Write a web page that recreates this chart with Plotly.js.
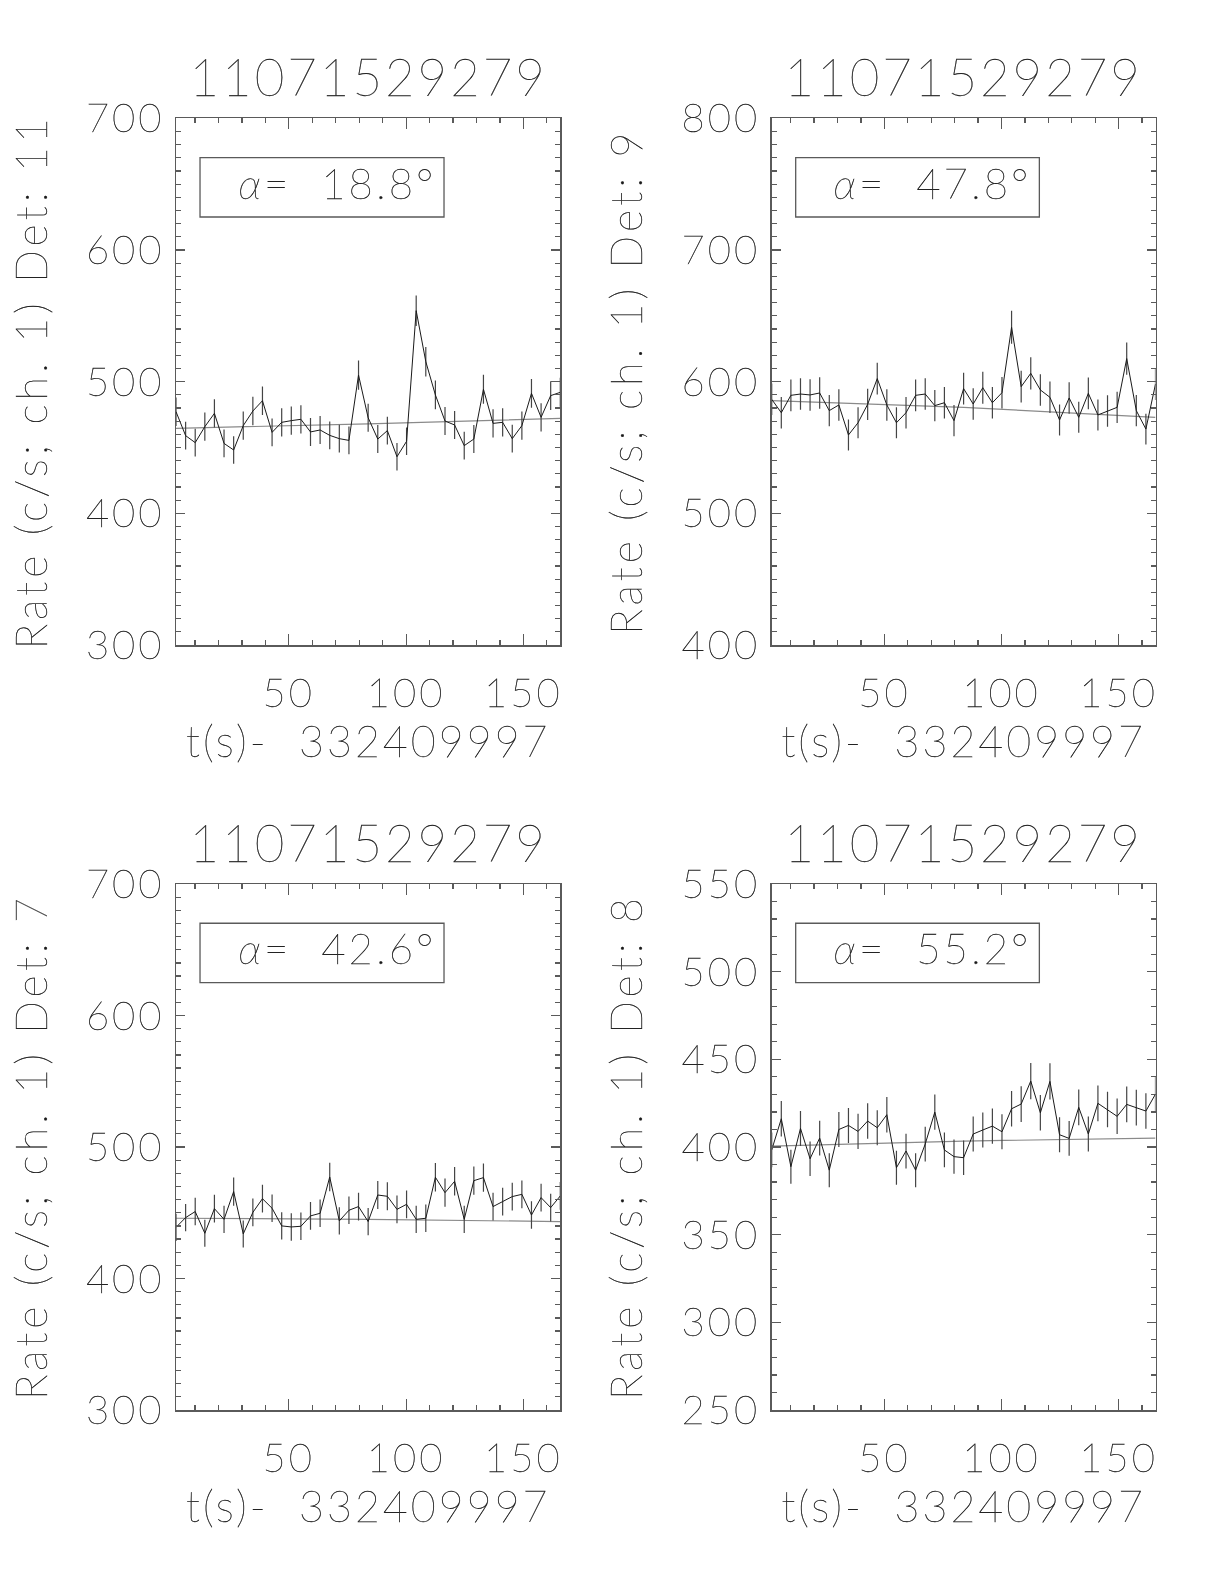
<!DOCTYPE html>
<html>
<head>
<meta charset="utf-8">
<script src="https://cdn.plot.ly/plotly-3.0.1.min.js"></script>
<style>
html,body{margin:0;padding:0;background:#fff;}
#chart{width:1224px;height:1584px;filter:grayscale(100%);}
.js-plotly-plot text{letter-spacing:3px;stroke:#222;stroke-width:0.35px;}
.js-plotly-plot .ytitle, .js-plotly-plot .y2title, .js-plotly-plot .y3title, .js-plotly-plot .y4title{letter-spacing:4px;}
</style>
</head>
<body>
<div id="chart"></div>
<script>
// ---- data ----
const chartTitle = "11071529279";
const xTitle = "t(s)-\u00a0\u00a0332409997";
const t = [1.90, 6.00, 10.09, 14.19, 18.28, 22.38, 26.48, 30.57, 34.67, 38.76,
  42.86, 46.96, 51.05, 55.15, 59.24, 63.34, 67.44, 71.53, 75.63, 79.72,
  83.82, 87.92, 92.01, 96.11, 100.20, 104.30, 108.40, 112.49, 116.59, 120.68,
  124.78, 128.88, 132.97, 137.07, 141.16, 145.26, 149.36, 153.45, 157.55, 161.64, 165.74];
const tFit = [1.90, 83.82, 165.74];

const detLabels = ["Rate (c/s; ch. 1) Det: 11", "Rate (c/s; ch. 1) Det: 9",
                   "Rate (c/s; ch. 1) Det: 7", "Rate (c/s; ch. 1) Det: 8"];
const alphaLabels = ["18.8", "47.8", "42.6", "55.2"];

const rateDet11 = [477.2, 459.0, 453.7, 465.8, 475.9, 453.1, 448.1, 466.6, 477.7, 485.5,
  461.5, 469.1, 470.4, 471.4, 461.8, 463.3, 459.2, 456.7, 455.4, 505.0,
  472.6, 456.4, 462.8, 443.0, 454.7, 553.9, 515.2, 489.9, 470.1, 467.1,
  451.4, 456.4, 494.2, 468.3, 469.1, 456.7, 466.6, 491.1, 472.9, 489.4, 491.9];
const errDet11 = [10.8, 10.6, 10.5, 10.7, 10.8, 10.5, 10.5, 10.7, 10.8, 10.9,
  10.6, 10.7, 10.7, 10.7, 10.6, 10.6, 10.6, 10.6, 10.5, 11.1,
  10.7, 10.6, 10.6, 10.4, 10.5, 11.6, 11.2, 10.9, 10.7, 10.7,
  10.5, 10.6, 11.0, 10.7, 10.7, 10.6, 10.7, 10.9, 10.7, 10.9, 11.0];
const fitDet11 = [464.5, 468.0, 472.1];

const rateDet9 = [586.6, 576.4, 589.6, 590.6, 589.9, 591.4, 578.0, 582.3, 559.5, 568.8,
  582.8, 602.3, 582.3, 568.8, 576.4, 589.6, 590.6, 581.8, 584.0, 570.4,
  594.7, 583.0, 595.4, 584.0, 591.6, 641.3, 596.2, 606.3, 593.7, 588.1,
  570.9, 587.6, 572.9, 591.1, 574.7, 577.7, 580.5, 617.5, 578.0, 564.0, 598.2];
const errDet9 = [12.0, 11.9, 12.0, 12.0, 12.0, 12.0, 11.9, 11.9, 11.7, 11.8,
  11.9, 12.1, 11.9, 11.8, 11.9, 12.0, 12.0, 11.9, 11.9, 11.8,
  12.0, 11.9, 12.1, 11.9, 12.0, 12.5, 12.1, 12.2, 12.0, 12.0,
  11.8, 12.0, 11.8, 12.0, 11.8, 11.9, 11.9, 12.3, 11.9, 11.7, 12.1];
const fitDet9 = [585.6, 580.5, 572.9];

const rateDet7 = [438.9, 446.3, 450.9, 434.4, 453.1, 445.0, 466.1, 433.9, 450.3, 460.7,
  453.4, 440.0, 439.2, 439.7, 447.6, 449.6, 477.2, 443.8, 451.9, 454.7,
  443.3, 463.5, 462.5, 452.6, 456.4, 445.0, 445.8, 477.0, 465.3, 473.9,
  445.0, 474.4, 476.7, 454.7, 458.5, 462.3, 464.0, 448.3, 461.5, 453.9, 462.8];
const errDet7 = [10.4, 10.4, 10.5, 10.3, 10.5, 10.4, 10.7, 10.3, 10.5, 10.6,
  10.5, 10.4, 10.4, 10.4, 10.5, 10.5, 10.8, 10.4, 10.5, 10.5,
  10.4, 10.6, 10.6, 10.5, 10.6, 10.4, 10.4, 10.8, 10.7, 10.8,
  10.4, 10.8, 10.8, 10.5, 10.6, 10.6, 10.6, 10.5, 10.6, 10.5, 10.6];
const fitDet7 = [445.8, 445.0, 443.3];

const rateDet8 = [398.3, 416.1, 388.8, 410.6, 393.3, 405.1, 386.8, 410.0, 412.3, 408.9,
  414.8, 411.0, 418.4, 388.2, 397.7, 386.8, 401.7, 419.9, 398.3, 394.5,
  393.9, 407.4, 409.7, 411.9, 408.7, 421.8, 424.5, 437.6, 419.5, 437.4,
  407.0, 404.9, 422.6, 407.4, 424.9, 421.4, 417.5, 424.3, 422.4, 420.5, 430.2];
const errDet8 = [9.9, 10.1, 9.7, 10.0, 9.8, 9.9, 9.7, 10.0, 10.0, 10.0,
  10.1, 10.0, 10.1, 9.7, 9.9, 9.7, 9.9, 10.1, 9.9, 9.8,
  9.8, 10.0, 10.0, 10.0, 10.0, 10.1, 10.2, 10.3, 10.1, 10.3,
  10.0, 9.9, 10.2, 10.0, 10.2, 10.1, 10.1, 10.2, 10.2, 10.1, 10.2];
const fitDet8 = [400.5, 403.4, 405.1];

const yRanges = [[300, 700], [400, 800], [300, 700], [250, 550]];
const yMajor = [100, 100, 100, 50];

// ---- layout / styling ----
const W = 1224, H = 1584;
const FONT = "Lato, 'DejaVu Sans', sans-serif";
const TXT = "#1a1a1a";
const WT = 200;
const AX = "#5a5a5a";
const colsPx = [[176, 560.3], [771.7, 1155.5]];
const rowsPx = [[118.3, 645], [884, 1410]];

const rates = [rateDet11, rateDet9, rateDet7, rateDet8];
const errs = [errDet11, errDet9, errDet7, errDet8];
const fits = [fitDet11, fitDet9, fitDet7, fitDet8];

const traces = [];
const layout = {
  width: W, height: H,
  margin: {l: 0, r: 0, t: 0, b: 0},
  paper_bgcolor: "#fff", plot_bgcolor: "#fff",
  showlegend: false,
  font: {family: FONT, color: TXT, weight: WT},
  annotations: [], shapes: []
};

for (let p = 0; p < 4; p++) {
  const col = p % 2, row = Math.floor(p / 2);
  const xs = p === 0 ? "" : String(p + 1);
  const xa = "x" + xs, ya = "y" + xs;
  const xd = [colsPx[col][0] / W, colsPx[col][1] / W];
  const yd = [1 - rowsPx[row][1] / H, 1 - rowsPx[row][0] / H];

  traces.push({
    x: tFit, y: fits[p], xaxis: xa, yaxis: ya, mode: "lines",
    line: {color: "#8a8a8a", width: 1.2}, hoverinfo: "skip"
  });
  traces.push({
    x: t, y: rates[p], xaxis: xa, yaxis: ya, mode: "lines",
    line: {color: "#1a1a1a", width: 1},
    error_y: {type: "data", array: errs[p], visible: true, color: "#444", thickness: 1.2, width: 0}
  });

  const common = {
    showline: true, linecolor: AX, linewidth: 1.5, mirror: "allticks",
    ticks: "inside", tickcolor: AX, tickwidth: 1.2,
    showgrid: false, zeroline: false, fixedrange: true
  };
  layout["xaxis" + xs] = Object.assign({}, common, {
    domain: xd, anchor: ya, range: [t[0], t[t.length - 1]],
    tick0: 0, dtick: 50, ticklen: 11,
    minor: {dtick: 10, tick0: 0, ticks: "inside", ticklen: 5, tickcolor: AX, tickwidth: 1.2, showgrid: false},
    tickfont: {family: FONT, size: 40, color: TXT, weight: WT},
    ticklabelstandoff: 12,
    title: {text: xTitle, font: {family: FONT, size: 43, color: TXT, weight: WT}, standoff: 12}
  });
  layout["yaxis" + xs] = Object.assign({}, common, {
    domain: yd, anchor: xa, range: yRanges[p],
    tick0: 0, dtick: yMajor[p], ticklen: 9,
    minor: {dtick: 10, tick0: 0, ticks: "inside", ticklen: 5, tickcolor: AX, tickwidth: 1.2, showgrid: false},
    tickfont: {family: FONT, size: 40, color: TXT, weight: WT},
    ticklabelstandoff: 2,
    title: {text: detLabels[p], font: {family: FONT, size: 43, color: TXT, weight: WT}, standoff: 34}
  });

  // panel title
  layout.annotations.push({
    xref: "paper", yref: "paper",
    x: (xd[0] + xd[1]) / 2, y: 1 - (rowsPx[row][0] - 41.5) / H,
    xanchor: "center", yanchor: "middle", showarrow: false,
    text: chartTitle, font: {family: FONT, size: 51, color: TXT, weight: WT}
  });
  // alpha box
  layout.shapes.push({
    type: "rect", xref: xa + " domain", yref: ya + " domain",
    x0: 0.0625, x1: 0.6974, y0: 0.8126, y1: 0.9254,
    line: {color: AX, width: 1.3}, fillcolor: "rgba(0,0,0,0)"
  });
  layout.annotations.push({
    xref: xa + " domain", yref: ya + " domain",
    x: 0.42, y: 0.878, xanchor: "center", yanchor: "middle", showarrow: false,
    text: "<i>α</i>=\u00a0\u00a0" + alphaLabels[p] + "°",
    font: {family: FONT, size: 42, color: TXT, weight: WT}
  });
}

Plotly.newPlot("chart", traces, layout, {staticPlot: true, displayModeBar: false});
</script>
</body>
</html>
